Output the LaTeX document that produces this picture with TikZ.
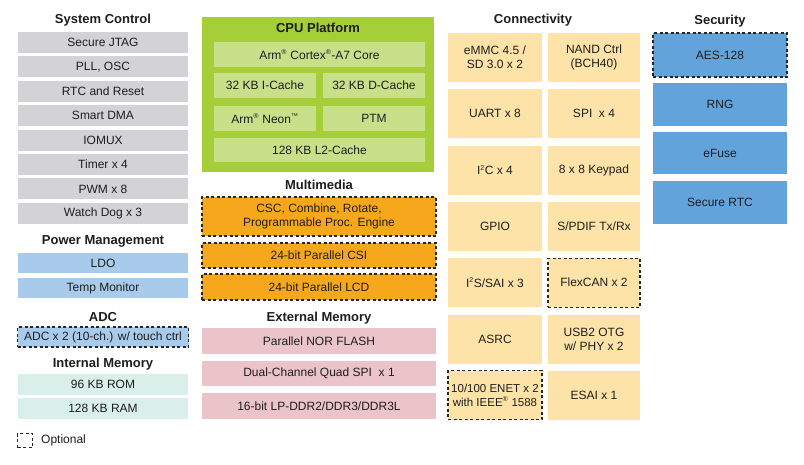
\documentclass[tikz,border=0pt]{standalone}
\usepackage{fontspec}
\setmainfont{Liberation Sans}
\definecolor{cgray}{HTML}{D3D3D5}
\definecolor{cpow}{HTML}{A9CBEB}
\definecolor{cteal}{HTML}{D8EFEA}
\definecolor{cgreen}{HTML}{A6CE39}
\definecolor{cgreenin}{HTML}{C8E08A}
\definecolor{corange}{HTML}{F6A71C}
\definecolor{cpink}{HTML}{EBC4C9}
\definecolor{cbeige}{HTML}{FDE3A7}
\definecolor{cblue}{HTML}{62A3DB}
\definecolor{ctext}{HTML}{1E1E1E}
\newcommand{\reg}{\textsuperscript{\fontsize{7}{7}\selectfont ®}}
\newcommand{\sqtwo}{\textsuperscript{\fontsize{7}{7}\selectfont 2}}
\begin{document}
\begin{tikzpicture}[x=1pt,y=-1pt,
  every node/.style={font=\fontsize{12}{14}\selectfont, text=ctext, inner sep=0pt, align=center},
  title/.style={font=\bfseries\fontsize{13}{15}\selectfont},
  opt/.style={draw=black!85, dashed, dash pattern=on 3pt off 2.5pt, line width=1.25pt},
  gbox/.style={fill=cgray, minimum width=170pt, minimum height=21pt},
  pbox/.style={fill=cpow, minimum width=170pt, minimum height=20pt},
  tbox/.style={fill=cteal, minimum width=170pt, minimum height=21pt},
  cin/.style={fill=cgreenin, minimum height=25pt},
  obox/.style={fill=corange, minimum width=234pt, opt},
  kbox/.style={fill=cpink, minimum width=234pt},
  ylbox/.style={fill=cbeige, minimum width=94pt, minimum height=49pt},
  yrbox/.style={fill=cbeige, minimum width=92pt, minimum height=49pt},
  sbox/.style={fill=cblue, minimum width=134pt}
]
\useasboundingbox (0,0) rectangle (804,464);
\fill[white] (0,0) rectangle (804,464);

% System Control
\node[title] (tsys) at (103,20) {System Control};
\node[gbox] (jtag) at (103,42.5) {Secure JTAG};
\node[gbox] (pll) at (103,66.9) {PLL, OSC};
\node[gbox] (rtc) at (103,91.3) {RTC and Reset};
\node[gbox] (dma) at (103,115.7) {Smart DMA};
\node[gbox] (iomux) at (103,140.1) {IOMUX};
\node[gbox] (timer) at (103,164.5) {Timer x 4};
\node[gbox] (pwm) at (103,188.9) {PWM x 8};
\node[gbox] (wdog) at (103,213.3) {Watch Dog x 3};

% Power Management
\node[title] (tpow) at (103,241) {Power Management};
\node[pbox] (ldo) at (103,263) {LDO};
\node[pbox] (temp) at (103,288) {Temp Monitor};

% ADC
\node[title] (tadc) at (103,317) {ADC};
\node[pbox, opt, minimum width=171pt] (adc) at (103,337) {ADC x 2 (10-ch.) w/ touch ctrl};

% Internal memory
\node[title] (tint) at (103,364) {Internal Memory};
\node[tbox] (rom) at (103,384.5) {96 KB ROM};
\node[tbox] (ram) at (103,408.5) {128 KB RAM};

% Legend
\node[opt, minimum width=15pt, minimum height=14pt] (leg) at (25,440.5) {};
\node[anchor=west] (legt) at (41,440.5) {Optional};

% CPU Platform
\node[fill=cgreen, minimum width=232pt, minimum height=155pt] (cpu) at (318,94.5) {};
\node[title] (tcpu) at (318,28) {CPU Platform};
\node[cin, minimum width=211pt] (core) at (319.5,54.5) {Arm\reg{} Cortex\reg-A7 Core};
\node[cin, minimum width=102pt] (icache) at (265,85.5) {32 KB I-Cache};
\node[cin, minimum width=102pt] (dcache) at (374,85.5) {32 KB D-Cache};
\node[cin, minimum width=102pt] (neon) at (265,118.5) {Arm\reg{} Neon\textsuperscript{\fontsize{7}{7}\selectfont ™}};
\node[cin, minimum width=102pt] (ptm) at (374,118.5) {PTM};
\node[cin, minimum width=211pt, minimum height=24pt] (l2) at (319.5,150) {128 KB L2-Cache};

% Multimedia
\node[title] (tmm) at (319,185) {Multimedia};
\node[obox, minimum height=39pt] (csc) at (319,216.5) {CSC, Combine, Rotate,\\Programmable Proc. Engine};
\node[obox, minimum height=25pt] (csi) at (319,255.5) {24-bit Parallel CSI};
\node[obox, minimum height=26pt] (lcd) at (319,287) {24-bit Parallel LCD};

% External Memory
\node[title] (text) at (319,318) {External Memory};
\node[kbox, minimum height=26pt] (nor) at (319,341) {Parallel NOR FLASH};
\node[kbox, minimum height=25pt] (qspi) at (319,373.5) {Dual-Channel Quad SPI\ \ x 1};
\node[kbox, minimum height=26pt] (ddr) at (319,406) {16-bit LP-DDR2/DDR3/DDR3L};

% Connectivity
\node[title] (tcon) at (533,20) {Connectivity};
\node[ylbox] (emmc) at (495,57.5) {eMMC 4.5 /\\SD 3.0 x 2};
\node[yrbox] (nand) at (594,57.5) {NAND Ctrl\\(BCH40)};
\node[ylbox] (uart) at (495,113.8) {UART x 8};
\node[yrbox] (spi) at (594,113.8) {SPI\ \ x 4};
\node[ylbox] (i2c) at (495,170.1) {I\sqtwo C x 4};
\node[yrbox] (keypad) at (594,170.1) {8 x 8 Keypad};
\node[ylbox] (gpio) at (495,226.4) {GPIO};
\node[yrbox] (spdif) at (594,226.4) {S/PDIF Tx/Rx};
\node[ylbox] (i2s) at (495,282.7) {I\sqtwo S/SAI x 3};
\node[yrbox, opt] (can) at (594,282.7) {FlexCAN x 2};
\node[ylbox] (asrc) at (495,339) {ASRC};
\node[yrbox] (usb) at (594,339) {USB2 OTG\\w/ PHY x 2};
\node[ylbox, opt, font=\fontsize{11.5}{13.5}\selectfont] (enet) at (495,395.3) {10/100 ENET x 2\\with IEEE\reg{} 1588};
\node[yrbox] (esai) at (594,395.3) {ESAI x 1};

% Security
\node[title] (tsec) at (720,21) {Security};
\node[sbox, opt, minimum height=44pt] (aes) at (720,55) {AES-128};
\node[sbox, minimum height=43pt] (rng) at (720,104.5) {RNG};
\node[sbox, minimum height=42pt] (efuse) at (720,153) {eFuse};
\node[sbox, minimum height=43pt] (srtc) at (720,202.5) {Secure RTC};
\end{tikzpicture}
\end{document}
